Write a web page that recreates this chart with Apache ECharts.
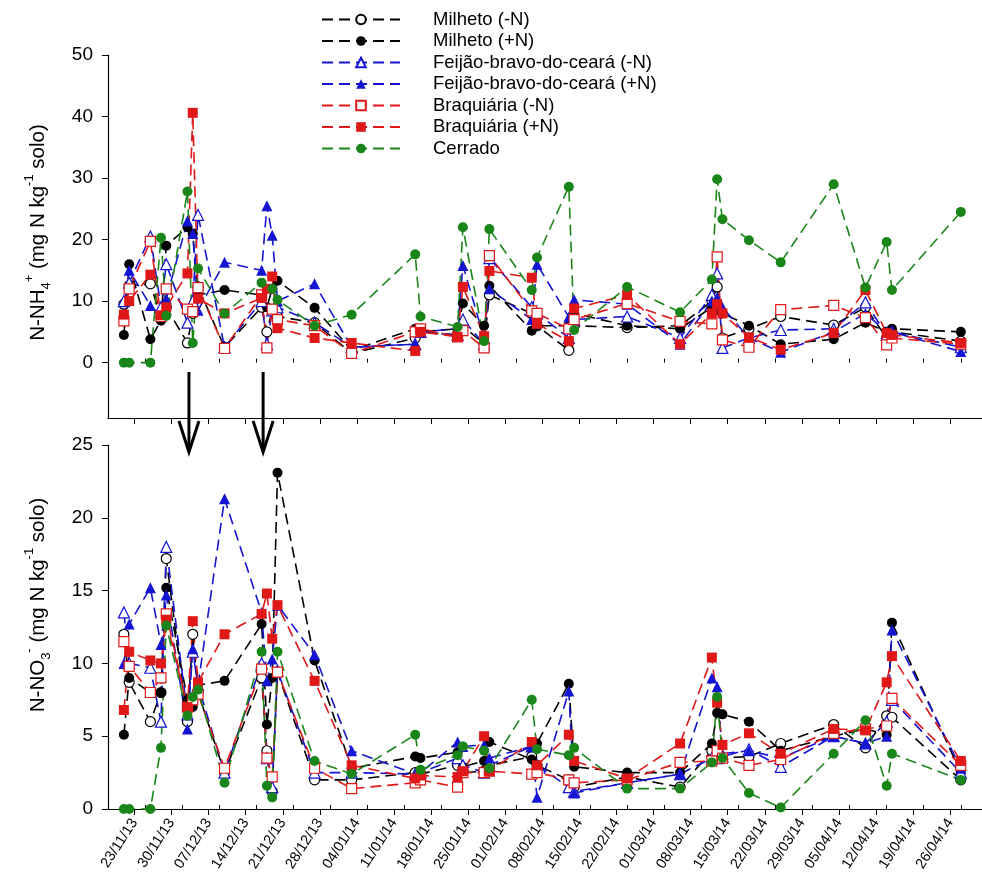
<!DOCTYPE html>
<html>
<head>
<meta charset="utf-8">
<script src="https://cdn.jsdelivr.net/npm/echarts@6/dist/echarts.min.js"></script>
<style>
  html, body { margin: 0; padding: 0; background: #fff; }
  #chart { width: 982px; height: 893px; }
</style>
</head>
<body>
<div id="chart"></div>
<script>
// sampling dates (dd/mm/yy)
const dates = [
  '21/11/13', '22/11/13', '26/11/13', '28/11/13', '29/11/13', '03/12/13', '04/12/13', '05/12/13', '10/12/13', '17/12/13',
  '18/12/13', '19/12/13', '20/12/13', '27/12/13', '03/01/14', '15/01/14', '16/01/14', '23/01/14', '24/01/14', '28/01/14',
  '29/01/14', '06/02/14', '07/02/14', '13/02/14', '14/02/14', '24/02/14', '06/03/14', '12/03/14', '13/03/14', '14/03/14',
  '19/03/14', '25/03/14', '04/04/14', '10/04/14', '14/04/14', '15/04/14', '28/04/14'
];

const tickLabels = [
  '23/11/13', '30/11/13', '07/12/13', '14/12/13', '21/12/13', '28/12/13', '04/01/14', '11/01/14',
  '18/01/14', '25/01/14', '01/02/14', '08/02/14', '15/02/14', '22/02/14', '01/03/14', '08/03/14',
  '15/03/14', '22/03/14', '29/03/14', '05/04/14', '12/04/14', '19/04/14', '26/04/14'
];
const axisStart = '18/11/13';
const axisEnd = '02/05/14';
const fertilization = ['03/12/13', '17/12/13'];

const nh4Ticks = [0, 10, 20, 30, 40, 50];
const no3Ticks = [0, 5, 10, 15, 20, 25];

// N-NH4+
const mmNH4 = [9.5, 12.5, 12.8, 7.4, 9, 3.2, 8, 12.3, 2.5, 9, 5, 8.5, 7.5, 6.5, 1.5, 4, 5, 4.5, 6, 3,
  11, 8, 6, 2.0, 6, 5.7, 6, 10, 12.3, 4, 5.5, 7.5, 6.1, 9, 4, 5, 3.5];
const mpNH4 = [4.5, 16, 3.8, 6.8, 19, 22, 21, 11, 11.8, 11, 9, 12, 13.3, 8.9, 2.0, 5.5, 5, 5.5, 9.6, 6,
  12.5, 5.2, 6, 6, 8, 6, 5.5, 9, 8.5, 8, 6, 3, 3.8, 6.5, 5, 5.5, 5];
const fmNH4 = [10, 13, 20.5, 9, 16, 6.5, 10, 24, 2.5, 10, 3, 8.5, 9, 6.5, 2.5, 3, 5, 4.5, 7, 3,
  17, 9, 8, 4, 7, 7.5, 4, 11, 14.5, 2.4, 4, 5.3, 5.5, 9.8, 4.5, 5, 2.5];
const fpNH4 = [8, 15, 9.3, 7.5, 10.4, 23, 21, 8.5, 16.3, 15, 25.5, 20.7, 10, 12.8, 2.5, 3, 5, 5.5, 15.8, 4,
  12, 7, 16, 7.4, 10.2, 9.5, 3, 10, 10.6, 9, 4, 1.7, 5, 8, 5, 5, 1.8];
const bmNH4 = [6.8, 12, 19.7, 7.5, 12, 8.7, 8.3, 12.2, 2.3, 11, 2.4, 8.7, 7, 6, 1.5, 5, 5.5, 4.2, 5.2, 2.4,
  17.4, 8.4, 8, 5.5, 7, 9.6, 6.7, 6.3, 17.2, 3.7, 2.5, 8.6, 9.3, 7.3, 2.9, 4, 3];
const bpNH4 = [7.8, 10, 14.3, 7.7, 9, 14.5, 40.6, 10.4, 8, 10.5, 12, 14, 5.6, 4, 3.2, 1.9, 5, 4.2, 12.3, 4.3,
  14.9, 13.8, 6.3, 3.5, 8.8, 11, 3, 8, 9.5, 8, 4.1, 2.1, 4.8, 11.8, 4.8, 4.5, 3.2];
const cNH4 = [0, 0, 0, 20.3, 7.6, 27.8, 3.2, 15.3, 8, 13, null, 12, 10.2, 6, 7.8, 17.6, 7.5, 5.8, 22, 3.5,
  21.7, 11.8, 17.1, 28.6, 5.3, 12.3, 8.2, 13.5, 29.8, 23.3, 19.9, 16.3, 29, 12.2, 19.6, 11.8, 24.5];

// N-NO3-
const mmNO3 = [12, 8.7, 6, 8, 17.2, 6, 12, 8, 2.5, 9, 4, 1.2, 9.4, 2.0, 2.0, 2.5, 2.4, 3.0, 2.5, 2.6,
  3, 3.6, 3, 2.0, 1.5, 2.2, 1.5, 4, 3.5, 3.5, 3.6, 4.5, 5.8, 4.2, 6.4, 6.3, 2];
const mpNO3 = [5.1, 9, 8, 8, 15.2, 7.5, 7, 8.5, 8.8, 12.7, 5.8, 9, 23.1, 10.2, 2.8, 3.6, 3.5, 3.9, 2.9, 3.3,
  4.6, 3.4, 4.5, 8.6, 2.9, 2.5, 2.5, 4.5, 6.6, 6.5, 6.0, 4.0, 5.0, 5.5, 5.1, 12.8, 2.5];
const fmNO3 = [13.5, 10, 9.7, 6, 18, 6.5, 10.8, 8.5, 2.5, 10, 3.5, 1.5, 9.5, 2.5, 2.5, 2.4, 2.5, 3.5, 3, 2.5,
  3, 4.3, 3, 1.5, 1.2, 1.8, 2.4, 3.5, 3.5, 3.6, 4.1, 2.9, 5, 4.5, 6, 7.5, 2.5];
const fpNO3 = [10, 12.7, 15.2, 11.3, 14.7, 5.5, 11, 8.5, 21.3, 13.5, 8.8, 10.3, 14, 10.6, 4.0, 2.4, 2.5, 4.6, 4.3, 4.4,
  3.5, 4.3, 0.8, 8.1, 1.1, 1.8, 2.4, 9.0, 8.4, 3.8, 4, 3.5, 5.0, 4.5, 5, 12.3, 2.8];
const bmNO3 = [11.5, 9.8, 8, 9, 13.4, 7, 7.5, 7.9, 2.8, 9.6, 3.5, 2.2, 9.4, 2.8, 1.4, 1.8, 2, 1.5, 2.5, 2.5,
  2.6, 2.4, 2.5, 2.0, 1.8, 2.0, 3.2, 3.3, 4.0, 3.5, 3.0, 3.4, 5.2, 5.5, 5.7, 7.6, 3];
const bpNO3 = [6.8, 10.8, 10.2, 10, 13, 7, 12.9, 8.7, 12, 13.4, 14.8, 11.7, 14, 8.8, 3.0, 2.1, 2.3, 2.2, 2.6, 5.0,
  2.6, 4.6, 3.0, 5.1, 3.3, 2.1, 4.5, 10.4, 7.3, 4.4, 5.2, 3.8, 5.5, 5.4, 8.7, 10.5, 3.3];
const cNO3 = [0, 0, 0, 4.2, 12.6, 6.4, 7.7, 8.2, 1.8, 10.8, 1.6, 0.8, 10.8, 3.3, 2.4, 5.1, 2.7, 3.7, 4.3, 4.0,
  2.8, 7.5, 4.1, 3.7, 4.2, 1.4, 1.4, 3.2, 7.7, 3.5, 1.1, 0.1, 3.8, 6.1, 1.6, 3.8, 2.0];

const FONT = "'Liberation Sans', Arial, sans-serif";

const parseDate = s => {
  const [d, m, y] = s.split('/').map(Number);
  return Date.UTC(2000 + y, m - 1, d);
};
const fmt = v => {
  const d = new Date(v);
  const p = n => String(n).padStart(2, '0');
  return p(d.getUTCDate()) + '/' + p(d.getUTCMonth() + 1) + '/' + p(d.getUTCFullYear() % 100);
};

const times = dates.map(parseDate);
const weekTicks = tickLabels.map(parseDate);
const minorTicks = weekTicks.map(t => t + 2 * 86400000);

const seriesDefs = [
  { name: 'Milheto (-N)', color: '#000000', symbol: 'circle', open: true, size: 10, nh4: mmNH4, no3: mmNO3 },
  { name: 'Milheto (+N)', color: '#000000', symbol: 'circle', open: false, size: 10, nh4: mpNH4, no3: mpNO3 },
  { name: 'Feijão-bravo-do-ceará (-N)', color: '#1414d2', symbol: 'triangle', open: true, size: 11, nh4: fmNH4, no3: fmNO3 },
  { name: 'Feijão-bravo-do-ceará (+N)', color: '#1414d2', symbol: 'triangle', open: false, size: 11, nh4: fpNH4, no3: fpNO3 },
  { name: 'Braquiária (-N)', color: '#e01818', symbol: 'rect', open: true, size: 10, nh4: bmNH4, no3: bmNO3 },
  { name: 'Braquiária (+N)', color: '#e01818', symbol: 'rect', open: false, size: 10, nh4: bpNH4, no3: bpNO3 },
  { name: 'Cerrado', color: '#1a861a', symbol: 'circle', open: false, size: 10, nh4: cNH4, no3: cNO3 }
];

const makeSeries = (def, values, idx) => ({
  name: def.name,
  type: 'line',
  xAxisIndex: idx,
  yAxisIndex: idx,
  data: times.map((t, i) => [t, values[i]]),
  connectNulls: true,
  symbol: def.symbol,
  symbolSize: def.size,
  lineStyle: { color: def.color, width: 1.6, type: [11, 6] },
  itemStyle: {
    color: def.open ? '#ffffff' : def.color,
    borderColor: def.color,
    borderWidth: def.open ? 1.2 : 0
  },
  emphasis: { disabled: true },
  animation: false
});

const series = [];
seriesDefs.forEach(d => series.push(makeSeries(d, d.nh4, 0)));
seriesDefs.forEach(d => series.push(makeSeries(d, d.no3, 1)));

const axisLine = { show: true, onZero: false, lineStyle: { color: '#000', width: 1.2 } };

// dates are kept as timestamps on a plain value axis
const dateAxis = (grid, showLabels) => ({
  type: 'value',
  gridIndex: grid,
  min: parseDate(axisStart),
  max: parseDate(axisEnd),
  axisLine: axisLine,
  axisTick: { show: true, customValues: weekTicks, length: 6, lineStyle: { color: '#000' } },
  axisLabel: {
    show: showLabels,
    customValues: weekTicks,
    rotate: 57,
    margin: 11,
    fontSize: 14.5,
    fontFamily: FONT,
    color: '#000',
    formatter: v => fmt(v)
  },
  splitLine: { show: false }
});

const minorAxis = grid => ({
  type: 'value',
  gridIndex: grid,
  min: parseDate(axisStart),
  max: parseDate(axisEnd),
  axisLine: { show: false },
  axisTick: { show: true, customValues: minorTicks, length: 4, lineStyle: { color: '#000' } },
  axisLabel: { show: false },
  splitLine: { show: false }
});

const subSup = {
  sub: { fontSize: 13, fontFamily: FONT, color: '#000', verticalAlign: 'bottom', lineHeight: 30 },
  sup: { fontSize: 13, fontFamily: FONT, color: '#000', verticalAlign: 'top', lineHeight: 30 }
};

// shift moves the rotated title along the axis (toward the top when positive)
const valueAxis = (grid, min, max, ticks, name, shift) => ({
  type: 'value',
  gridIndex: grid,
  min: min,
  max: max,
  name: name,
  nameLocation: 'middle',
  nameRotate: 90,
  nameGap: 55,
  nameTextStyle: {
    fontSize: 20.5, fontFamily: FONT, color: '#000', lineHeight: 30, rich: subSup,
    padding: [0, 0, 0, shift * 2]
  },
  axisLine: axisLine,
  axisTick: { show: true, customValues: ticks, length: 6, lineStyle: { color: '#000' } },
  axisLabel: { customValues: ticks, fontSize: 19, fontFamily: FONT, color: '#000', margin: 15 },
  splitLine: { show: false }
});

const chart = echarts.init(document.getElementById('chart'));

chart.setOption({
  backgroundColor: '#fff',
  animation: false,
  grid: [
    { left: 108, right: -20, top: 55, bottom: 475 },
    { left: 108, right: -20, top: 445, bottom: 84 }
  ],
  legend: {
    data: seriesDefs.map(d => d.name),
    orient: 'vertical',
    left: 321,
    top: 10,
    padding: 0,
    itemWidth: 78,
    itemHeight: 12,
    itemGap: 2.5,
    textStyle: { fontSize: 18.5, lineHeight: 19, fontFamily: FONT, color: '#000', padding: [0, 0, 0, 28] },
    selectedMode: false
  },
  xAxis: [dateAxis(0, false), dateAxis(1, true), minorAxis(0), minorAxis(1)],
  yAxis: [
    valueAxis(0, -9, 50, nh4Ticks, 'N-NH{sub|4}{sup|+} (mg N kg{sup|-1} solo)', 4),
    valueAxis(1, 0, 25, no3Ticks, 'N-NO{sub|3}{sup|-} (mg N kg{sup|-1} solo)', 22)
  ],
  series: series
});

// fertilization arrows between the panels
const arrows = [];
fertilization.forEach(d => {
  const x = chart.convertToPixel({ xAxisIndex: 0 }, parseDate(d)) + 1.5;
  arrows.push({
    type: 'line',
    shape: { x1: x, y1: 372, x2: x, y2: 450 },
    style: { stroke: '#000', lineWidth: 3 }
  });
  arrows.push({
    type: 'polyline',
    shape: { points: [[x - 10, 421], [x, 452], [x + 10, 421]] },
    style: { stroke: '#000', lineWidth: 3, fill: null }
  });
});
chart.setOption({ graphic: arrows });
</script>
</body>
</html>
